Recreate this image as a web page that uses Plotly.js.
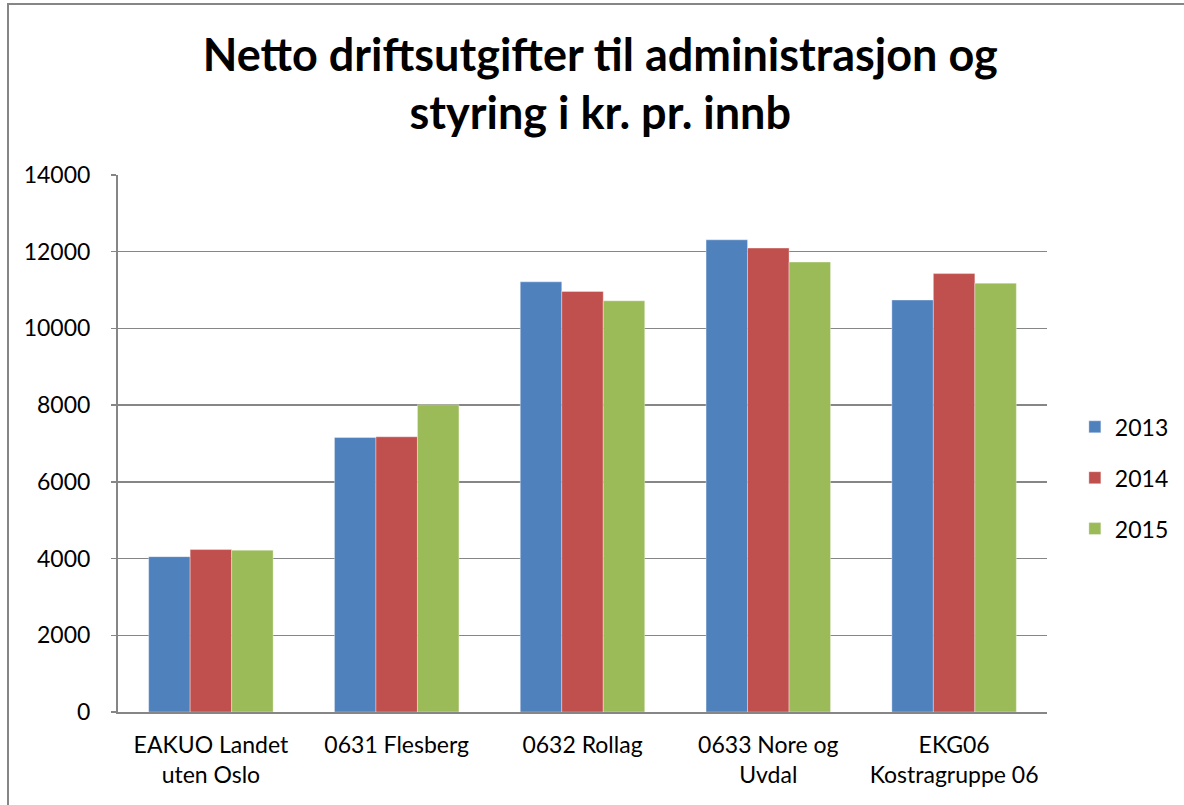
<!DOCTYPE html>
<html>
<head>
<meta charset="utf-8">
<script src="https://cdn.plot.ly/plotly-3.0.1.min.js"></script>
<style>
  html, body { margin: 0; padding: 0; background: #ffffff; }
  #chart { width: 1184px; height: 805px; }
</style>
</head>
<body>
<div id="chart"></div>
<script>
const categories = [
  "EAKUO Landet<br>uten Oslo",
  "0631 Flesberg",
  "0632 Rollag",
  "0633 Nore og<br>Uvdal",
  "EKG06<br>Kostragruppe 06"
];
const seriesNames = ["2013", "2014", "2015"];
const values2013 = [4050, 7155, 11215, 12310, 10740];
const values2014 = [4235, 7175, 10965, 12095, 11430];
const values2015 = [4220, 8010, 10720, 11730, 11180];
const colors = ["#4F81BD", "#C0504D", "#9BBB59"];
const yTicks = [0, 2000, 4000, 6000, 8000, 10000, 12000, 14000];

const allValues = [values2013, values2014, values2015];
const traces = allValues.map((vals, i) => ({
  type: "bar",
  name: seriesNames[i],
  x: categories,
  y: vals,
  legendgroup: seriesNames[i],
  marker: { color: colors[i], line: { color: "rgba(255,255,255,0.35)", width: 1 } },
  hoverinfo: "x+y+name"
}));

const FONT = "Lato, 'Noto Sans', sans-serif";

const layout = {
  width: 1184,
  height: 805,
  paper_bgcolor: "#ffffff",
  plot_bgcolor: "#ffffff",
  margin: { l: 118, r: 137, t: 175, b: 93, pad: 0, autoexpand: false },
  font: { family: FONT, size: 23, color: "#000000" },
  title: {
    text: "<b>Netto driftsutgifter til administrasjon og<br>styring i kr. pr. innb</b>",
    font: { family: FONT, size: 45, color: "#000000" },
    x: 0.507,
    xanchor: "center",
    xref: "container",
    y: 0.912,
    yanchor: "top",
    yref: "container"
  },
  barmode: "group",
  bargap: 0.33,
  bargroupgap: 0,
  xaxis: {
    type: "category",
    showgrid: false,
    showline: true,
    linecolor: "#868686",
    linewidth: 2,
    ticks: "",
    tickfont: { family: FONT, size: 23, color: "#000000" },
    ticklabelstandoff: 11,
    automargin: false,
    fixedrange: true
  },
  yaxis: {
    range: [0, 14000],
    tickvals: yTicks,
    ticktext: yTicks.map(v => String(v)),
    showgrid: true,
    gridcolor: "#868686",
    gridwidth: 1.5,
    showline: true,
    linecolor: "#868686",
    linewidth: 2,
    ticks: "outside",
    ticklen: 5,
    tickcolor: "#868686",
    tickwidth: 1.5,
    zeroline: false,
    tickfont: { family: FONT, size: 23, color: "#000000" },
    ticklabelstandoff: 16,
    automargin: false,
    fixedrange: true
  },
  showlegend: true,
  legend: {
    x: 1.03,
    xanchor: "left",
    y: 0.436,
    yanchor: "middle",
    traceorder: "grouped",
    tracegroupgap: 18,
    font: { family: FONT, size: 23, color: "#000000" },
    bgcolor: "rgba(0,0,0,0)",
    itemclick: false,
    itemdoubleclick: false
  },
  shapes: [
    {
      type: "rect",
      xref: "paper", yref: "paper",
      x0: -0.1184, x1: 2,
      y0: -1, y1: 1.3184,
      line: { color: "#868686", width: 2 },
      fillcolor: "rgba(0,0,0,0)",
      layer: "below"
    }
  ]
};

Plotly.newPlot("chart", traces, layout, { staticPlot: true, displayModeBar: false });
</script>
</body>
</html>
